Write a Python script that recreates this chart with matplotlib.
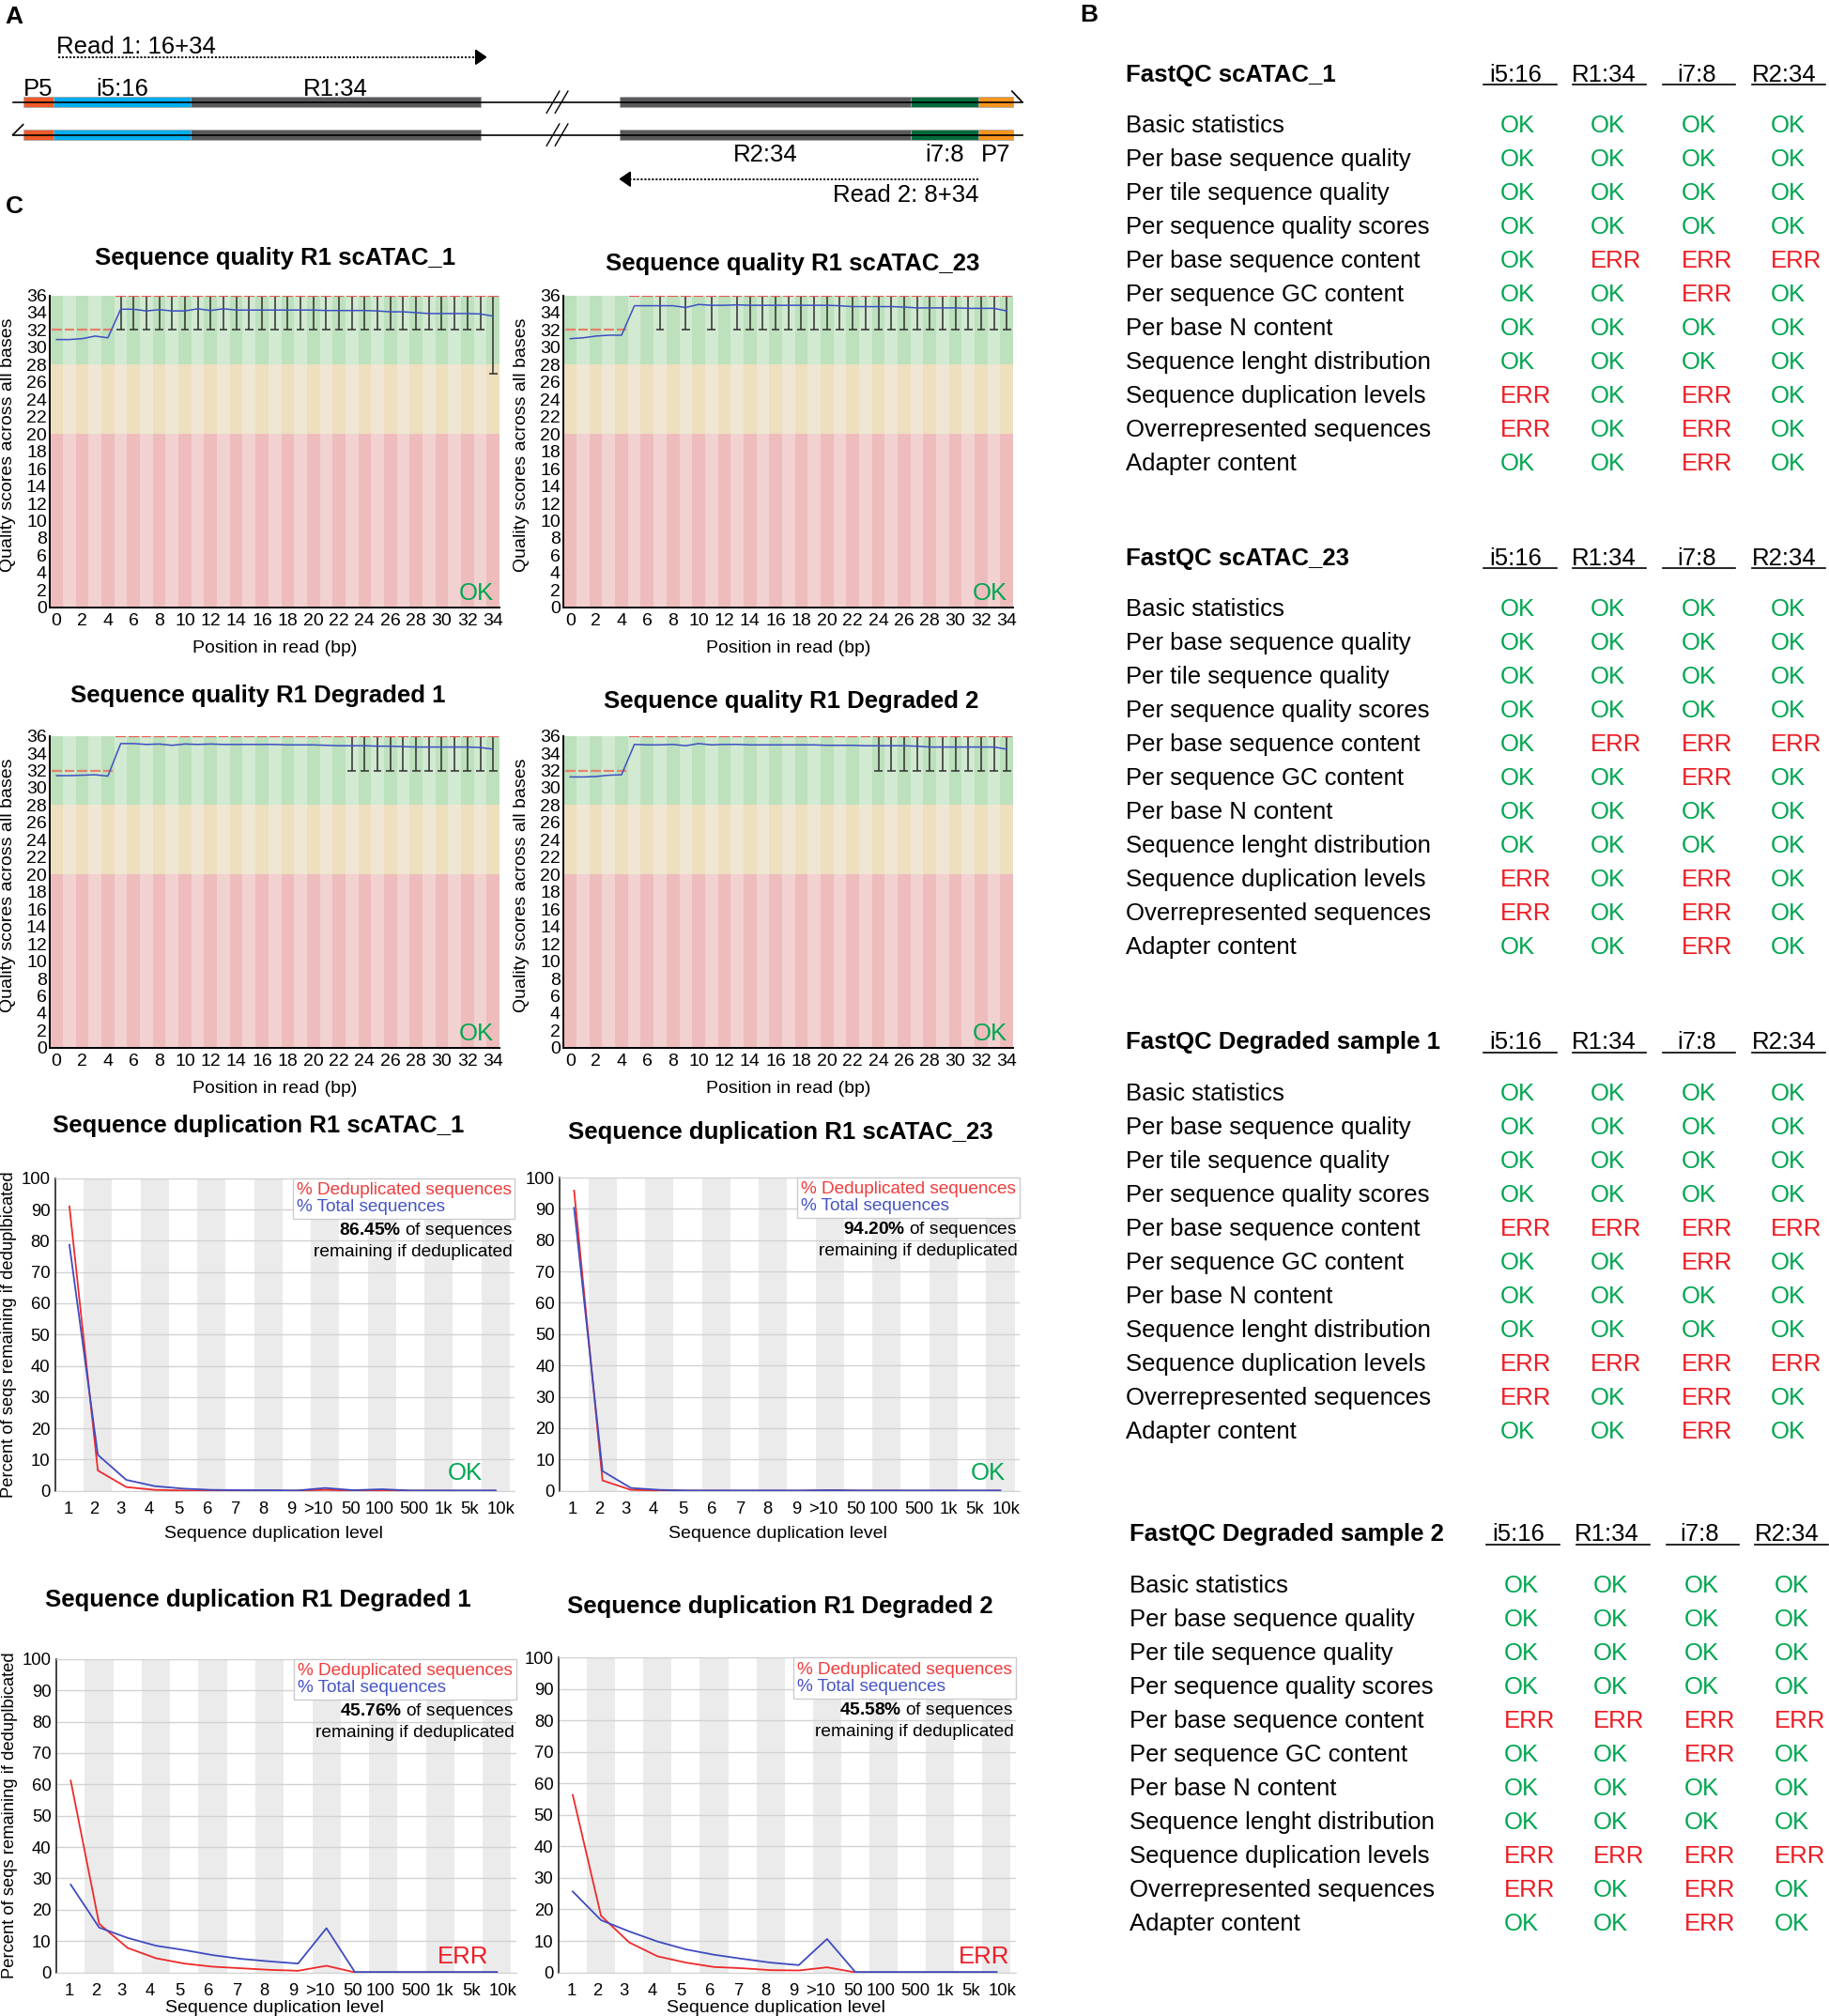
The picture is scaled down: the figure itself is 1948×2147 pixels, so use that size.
import matplotlib
matplotlib.use('Agg')
import matplotlib.pyplot as plt
from matplotlib.lines import Line2D

plt.rcParams['font.family'] = ['Liberation Sans', 'DejaVu Sans']
plt.rcParams['mathtext.fontset'] = 'custom'
plt.rcParams['mathtext.rm'] = 'Liberation Sans'
plt.rcParams['mathtext.bf'] = 'Liberation Sans:bold'

# ------------------------------------------------------------------ data
# A: library construct, lengths in bp (adapters drawn short)
left_names = ['P5', 'i5:16', 'R1:34']
left_len = [3.6, 16, 34]
left_cols = ['#f15a29', '#00aeef', '#58595b']
right_names = ['R2:34', 'i7:8', 'P7']
right_len = [34, 8, 4]
right_cols = ['#58595b', '#006b3c', '#f7941d']
insert_gap = 16.3
read1_label = 'Read 1: 16+34'
read2_label = 'Read 2: 8+34'

# B: FastQC module summary
qc_modules = ['Basic statistics', 'Per base sequence quality', 'Per tile sequence quality',
              'Per sequence quality scores', 'Per base sequence content', 'Per sequence GC content',
              'Per base N content', 'Sequence lenght distribution', 'Sequence duplication levels',
              'Overrepresented sequences', 'Adapter content']
qc_columns = ['i5:16', 'R1:34', 'i7:8', 'R2:34']
qc_titles = ['FastQC scATAC_1', 'FastQC scATAC_23', 'FastQC Degraded sample 1', 'FastQC Degraded sample 2']
qc_scatac_1 = ['OK OK OK OK', 'OK OK OK OK', 'OK OK OK OK', 'OK OK OK OK', 'OK ERR ERR ERR',
               'OK OK ERR OK', 'OK OK OK OK', 'OK OK OK OK', 'ERR OK ERR OK', 'ERR OK ERR OK',
               'OK OK ERR OK']
qc_scatac_23 = ['OK OK OK OK', 'OK OK OK OK', 'OK OK OK OK', 'OK OK OK OK', 'OK ERR ERR ERR',
                'OK OK ERR OK', 'OK OK OK OK', 'OK OK OK OK', 'ERR OK ERR OK', 'ERR OK ERR OK',
                'OK OK ERR OK']
qc_degraded_1 = ['OK OK OK OK', 'OK OK OK OK', 'OK OK OK OK', 'OK OK OK OK', 'ERR ERR ERR ERR',
                 'OK OK ERR OK', 'OK OK OK OK', 'OK OK OK OK', 'ERR ERR ERR ERR', 'ERR OK ERR OK',
                 'OK OK ERR OK']
qc_degraded_2 = ['OK OK OK OK', 'OK OK OK OK', 'OK OK OK OK', 'OK OK OK OK', 'ERR ERR ERR ERR',
                 'OK OK ERR OK', 'OK OK OK OK', 'OK OK OK OK', 'ERR ERR ERR ERR', 'ERR OK ERR OK',
                 'OK OK ERR OK']
qc_tables = [qc_scatac_1, qc_scatac_23, qc_degraded_1, qc_degraded_2]

# C: per base sequence quality (R1)
positions = list(range(35))
qual_titles = ['Sequence quality R1 scATAC_1', 'Sequence quality R1 scATAC_23',
               'Sequence quality R1 Degraded 1', 'Sequence quality R1 Degraded 2']
mean_scatac_1 = [30.9, 30.9, 31.0, 31.3, 31.1, 34.4, 34.4, 34.2, 34.35, 34.2, 34.2, 34.45, 34.25,
                 34.45, 34.3, 34.3, 34.3, 34.3, 34.3, 34.3, 34.3, 34.25, 34.25, 34.25, 34.25, 34.2,
                 34.1, 34.1, 34.0, 33.9, 33.9, 33.9, 33.9, 33.85, 33.6]
mean_scatac_23 = [31.0, 31.1, 31.3, 31.4, 31.4, 34.8, 34.8, 34.8, 34.8, 34.6, 34.95, 34.85, 34.85,
                  34.9, 34.85, 34.85, 34.85, 34.85, 34.85, 34.85, 34.85, 34.8, 34.7, 34.7, 34.7,
                  34.7, 34.65, 34.55, 34.55, 34.55, 34.55, 34.5, 34.5, 34.5, 34.2]
mean_degraded_1 = [31.4, 31.4, 31.45, 31.5, 31.35, 35.1, 35.1, 35.0, 35.05, 34.9, 35.05, 35.0, 35.05,
                   35.0, 35.0, 35.0, 35.0, 35.0, 34.95, 34.95, 34.95, 34.9, 34.85, 34.85, 34.85,
                   34.8, 34.8, 34.75, 34.7, 34.7, 34.7, 34.7, 34.7, 34.65, 34.45]
mean_degraded_2 = [31.25, 31.25, 31.3, 31.45, 31.5, 35.0, 34.95, 34.95, 35.0, 34.85, 35.1, 34.95,
                   35.0, 35.0, 34.95, 34.95, 34.95, 34.95, 34.95, 34.95, 34.9, 34.9, 34.9, 34.85,
                   34.85, 34.85, 34.85, 34.8, 34.7, 34.7, 34.7, 34.7, 34.7, 34.7, 34.45]
qual_means = [mean_scatac_1, mean_scatac_23, mean_degraded_1, mean_degraded_2]
qual_median = [32] * 5 + [36] * 30
whisk_scatac_1 = list(range(5, 35))
low_scatac_1 = [32] * 29 + [27]
whisk_scatac_23 = [7, 9, 11, 13] + list(range(14, 35))
whisk_degraded_1 = list(range(23, 35))
whisk_degraded_2 = list(range(24, 35))
qual_whisk = [whisk_scatac_1, whisk_scatac_23, whisk_degraded_1, whisk_degraded_2]
qual_low = [low_scatac_1, [32] * len(whisk_scatac_23), [32] * len(whisk_degraded_1),
            [32] * len(whisk_degraded_2)]

# C: sequence duplication levels (R1)
dup_levels = ['1', '2', '3', '4', '5', '6', '7', '8', '9', '>10', '50', '100', '500', '1k', '5k', '10k']
dup_titles = ['Sequence duplication R1 scATAC_1', 'Sequence duplication R1 scATAC_23',
              'Sequence duplication R1 Degraded 1', 'Sequence duplication R1 Degraded 2']
dedup_scatac_1 = [91, 6.5, 1.2, 0.3, 0.1, 0.05, 0.05, 0.05, 0.05, 0.3, 0.05, 0.2, 0.05, 0.02, 0.02, 0.02]
total_scatac_1 = [78.7, 11.5, 3.5, 1.5, 0.7, 0.3, 0.2, 0.2, 0.1, 0.9, 0.2, 0.5, 0.1, 0.1, 0.1, 0.1]
dedup_scatac_23 = [95.8, 3.3, 0.3, 0.1, 0.05, 0.02, 0.02, 0.02, 0.02, 0.2, 0.05, 0.05, 0.02, 0.02, 0.02, 0.02]
total_scatac_23 = [90.3, 6.3, 0.9, 0.3, 0.1, 0.1, 0.1, 0.1, 0.1, 0.2, 0.1, 0.1, 0.1, 0.1, 0.1, 0.1]
dedup_degraded_1 = [61.2, 15.5, 7.8, 4.5, 2.8, 1.8, 1.3, 0.8, 0.5, 2.1, 0, 0, 0, 0, 0, 0]
total_degraded_1 = [28.0, 14.3, 11.0, 8.5, 7.1, 5.5, 4.3, 3.5, 2.8, 14.1, 0.1, 0.1, 0.1, 0.1, 0.1, 0.1]
dedup_degraded_2 = [56.4, 18.0, 9.5, 5.1, 3.1, 1.7, 1.3, 0.7, 0.6, 1.6, 0, 0, 0, 0, 0, 0]
total_degraded_2 = [25.7, 16.6, 13.0, 9.8, 7.3, 5.6, 4.3, 3.1, 2.3, 10.6, 0.1, 0.1, 0.1, 0.1, 0.1, 0.1]
dup_dedup = [dedup_scatac_1, dedup_scatac_23, dedup_degraded_1, dedup_degraded_2]
dup_total = [total_scatac_1, total_scatac_23, total_degraded_1, total_degraded_2]
dup_remaining = ['86.45', '94.20', '45.76', '45.58']
dup_status = ['OK', 'OK', 'ERR', 'ERR']

# ------------------------------------------------------------------ layout
W, H = 1425.0, 1570.0
OK_C, ERR_C = '#00a651', '#ed1c24'
FS_TXT = 18.5
FS_QTICK = 14
FS_DTICK = 13.3
# where the original chart put its duplication tick labels (relative to bin centre)
dup_label_shift = [-0.05, -0.12, -0.2, -0.2, -0.16, -0.14, -0.13, -0.18, -0.18, -0.24,
                   -0.09, -0.1, 0.13, 0.17, 0.09, 0.2]


def rect(l, t, r, b):
    return [l / W, 1 - b / H, (r - l) / W, (b - t) / H]


fig = plt.figure(figsize=(19.49, 21.47), dpi=100)

#################################################  A
axA = fig.add_axes(rect(0, 0, 820, 170))
axA.axis('off')
bp = 6.65
axA.set_xlim(-18 / bp, (820 - 18) / bp)
axA.set_ylim(170, 0)

left_start = [sum(left_len[:i]) for i in range(3)]
r0 = sum(left_len) + insert_gap
right_start = [r0 + sum(right_len[:i]) for i in range(3)]
end = r0 + sum(right_len)

for y in (79.5, 105):
    axA.barh([y] * 3, left_len, left=left_start, height=8, color=left_cols,
             edgecolor='#a8a8a8', linewidth=0.6)
    axA.barh([y] * 3, right_len, left=right_start, height=8, color=right_cols,
             edgecolor='#a8a8a8', linewidth=0.6)
    axA.plot([-1.2, end + 1.1], [y, y], color='k', lw=1.2)
    c = sum(left_len) + insert_gap / 2 + 0.8
    for d in (-0.5, 0.5):
        axA.plot([c + d - 0.75, c + d + 0.75], [y + 8.5, y - 8.5], color='k', lw=1)
axA.plot([end - 0.1, end + 1.1], [71, 79.5], color='k', lw=1.2)
axA.plot([-1.2, 0], [105, 97], color='k', lw=1.2)

for name, s, l in zip(left_names, left_start, left_len):
    axA.text(s + l / 2, 74.5, name, ha='center', va='baseline', fontsize=FS_TXT)
for name, s, l in zip(right_names, right_start, right_len):
    axA.text(s + l / 2, 125.5, name, ha='center', va='baseline', fontsize=FS_TXT)

r1a, r1b = left_start[1], sum(left_len)
axA.plot([r1a + 0.5, r1b - 0.6], [44.5, 44.5], color='k', lw=1.3, ls=(0, (1.2, 1.0)))
axA.fill([r1b - 0.6, r1b - 0.6, r1b + 0.6], [39, 50, 44.5], color='k')
axA.text(r1a + 0.3, 41.4, read1_label, va='baseline', fontsize=FS_TXT)
r2a, r2b = right_start[2], right_start[0]
axA.plot([r2a, r2b + 1.2], [139.4, 139.4], color='k', lw=1.3, ls=(0, (1.2, 1.0)))
axA.fill([r2b + 1.2, r2b + 1.2, r2b], [134, 145, 139.4], color='k')
axA.text(r2a, 157.2, read2_label, ha='right', va='baseline', fontsize=FS_TXT)

#################################################  C quality
q_boxes = [(39, 230, 389, 473), (439, 230, 789, 473), (39, 573, 389, 816), (439, 573, 789, 816)]
q_title_xy = [(214, 206), (617, 210.6), (201, 547), (616, 551.5)]
greens = ['#bde0bd', '#d1ead1']
oranges = ['#eedfbf', '#efe6d4']
reds = ['#eebcbc', '#f2d1d1']

ov_text = []
for k in range(4):
    l, t, r, b = q_boxes[k]
    ax = fig.add_axes(rect(l, t, r, b))
    ax.bar(positions, [8] * 35, bottom=28, width=1, color=[greens[p % 2] for p in positions], lw=0)
    ax.bar(positions, [8] * 35, bottom=20, width=1, color=[oranges[p % 2] for p in positions], lw=0)
    ax.bar(positions, [20] * 35, bottom=0, width=1, color=[reds[p % 2] for p in positions], lw=0)
    wp = qual_whisk[k]
    ax.vlines(wp, qual_low[k], [36] * len(wp), colors='#2e2e2e', lw=1.1, zorder=3)
    ax.hlines(qual_low[k], [p - 0.32 for p in wp], [p + 0.32 for p in wp], colors='#2e2e2e', lw=1.1, zorder=3)
    med_col = ['#e6806a' if m < 36 else '#e85a55' for m in qual_median]
    ax.hlines(qual_median, [p - 0.39 for p in positions], [p + 0.39 for p in positions],
              colors=med_col, lw=1.6, zorder=4)
    ax.plot(positions, qual_means[k], color='#3d50c3', lw=1.1, zorder=5)
    ax.set_xlim(-0.5, 34.5)
    ax.set_ylim(0, 36)
    ax.set_xticks(range(0, 35, 2))
    ax.set_yticks(range(0, 37, 2))
    ax.tick_params(length=0, labelsize=FS_QTICK)
    ax.tick_params(axis='x', pad=4.5)
    ax.tick_params(axis='y', pad=2.5)
    for s in ('top', 'right'):
        ax.spines[s].set_visible(False)
    for s in ('left', 'bottom'):
        ax.spines[s].set_linewidth(1.4)
    ax.text(0.987, 0.008, 'OK', transform=ax.transAxes, ha='right', va='bottom',
            color=OK_C, fontsize=18.5, zorder=6)
    ov_text.append((q_title_xy[k][0], q_title_xy[k][1], qual_titles[k], FS_TXT, 'bold', 0, 'baseline'))
    ov_text.append(((l + r) / 2, b + 35, 'Position in read (bp)', 14, 'normal', 0, 'baseline'))
    ov_text.append((l - 33, (t + b) / 2 - 5, 'Quality scores across all bases', 14, 'normal', 90, 'center'))

#################################################  C duplication
d_boxes = [(43, 917.6, 401, 1161), (436, 917, 794, 1161), (44, 1292, 402, 1536), (435, 1291, 791, 1536)]
d_title_xy = [(201, 881.8), (608, 887), (201, 1251.5), (607.6, 1256.4)]
d_status_x = [0.93, 0.97, 0.94, 0.987]
d_status_y = [0.02, 0.02, 0.013, 0.013]
d_xlabel_y = [1198, 1198, 1567, 1567]

for k in range(4):
    l, t, r, b = d_boxes[k]
    ax = fig.add_axes(rect(l, t, r, b))
    xs = list(range(len(dup_levels)))
    for i in xs[1::2]:
        ax.axvspan(i - 0.5, i + 0.5, color='#ebebec', lw=0, zorder=0.2)
    ax.set_axisbelow(True)
    ax.grid(axis='y', color='#d2d2d2', lw=1)
    ax.plot(xs, dup_dedup[k], color='#ee2a2a', lw=1.3, zorder=3)
    ax.plot(xs, dup_total[k], color='#3f4bbf', lw=1.3, zorder=3)
    ax.set_xlim(-0.5, 15.68)
    ax.set_ylim(0, 100)
    ax.set_xticks([x + s for x, s in zip(xs, dup_label_shift)])
    ax.set_xticklabels(dup_levels)
    ax.set_yticks(range(0, 101, 10))
    ax.tick_params(length=0, labelsize=FS_DTICK)
    ax.tick_params(axis='x', pad=8)
    ax.tick_params(axis='y', pad=4)
    ax.spines['right'].set_visible(False)
    ax.spines['top'].set_color('#d2d2d2')
    ax.spines['bottom'].set_color('#d2d2d2')
    ax.spines['left'].set_color('#222222')
    ax.spines['left'].set_linewidth(1.2)
    handles = [Line2D([], [], lw=0), Line2D([], [], lw=0)]
    leg = ax.legend(handles, ['% Deduplicated sequences', '% Total sequences'], loc='upper right',
                    bbox_to_anchor=(1.0, 1.0), borderaxespad=0, handlelength=0, handletextpad=0,
                    borderpad=0.2, labelspacing=0.05, fontsize=13.7, fancybox=False,
                    framealpha=1, edgecolor='#cccccc', labelcolor=['#f03c3c', '#4554c4'])
    leg.get_frame().set_linewidth(1)
    ax.text(0.995, 0.834, r'$\mathbf{' + dup_remaining[k] + r'\%}$ of sequences', transform=ax.transAxes,
            ha='right', va='center', fontsize=13.8, zorder=6)
    ax.text(0.995, 0.764, 'remaining if deduplicated', transform=ax.transAxes,
            ha='right', va='center', fontsize=13.8, zorder=6)
    st = dup_status[k]
    ax.text(d_status_x[k], d_status_y[k], st, transform=ax.transAxes, ha='right', va='bottom',
            color=OK_C if st == 'OK' else ERR_C, fontsize=18.5, zorder=6)
    ov_text.append((d_title_xy[k][0], d_title_xy[k][1], dup_titles[k], FS_TXT, 'bold', 0, 'baseline'))
    ov_text.append(((l + r) / 2 - 9, d_xlabel_y[k], 'Sequence duplication level', 14, 'normal', 0, 'baseline'))
    if k % 2 == 0:
        ov_text.append((l - 36, (t + b) / 2, 'Percent of seqs remaining if deduplbicated',
                        13.2, 'normal', 90, 'center'))

#################################################  overlay: B tables and labels
ov = fig.add_axes([0, 0, 1, 1])
ov.axis('off')
ov.set_xlim(0, W)
ov.set_ylim(H, 0)

for x, y, s, fs, fw, rot, va in ov_text:
    ov.text(x, y, s, ha='center', va=va, fontsize=fs, fontweight=fw, rotation=rot)

ov.text(4, 18.3, 'A', fontsize=19, fontweight='bold', va='baseline')
ov.text(841, 16.8, 'B', fontsize=19, fontweight='bold', va='baseline')
ov.text(4, 165.7, 'C', fontsize=19, fontweight='bold', va='baseline')

tab_base = [63.4, 439.9, 816.9, 1200.3]
tab_dx = [0, 0, 0, 2.5]
head_cx = [1180, 1249, 1321, 1389]
under = [(1155, 1211.9), (1225, 1282), (1295, 1351.5), (1364, 1421)]
val_x = [1168.4, 1238.4, 1309.2, 1379]
for ti in range(4):
    y0, dx = tab_base[ti], tab_dx[ti]
    ov.text(877 + dx, y0, qc_titles[ti], fontsize=FS_TXT, fontweight='bold', va='baseline')
    for j, col in enumerate(qc_columns):
        ov.text(head_cx[j] + dx, y0, col, fontsize=FS_TXT, ha='center', va='baseline')
        ov.plot([under[j][0] + dx, under[j][1] + dx], [y0 + 2.5, y0 + 2.5], color='k', lw=1.2)
    for i, mod in enumerate(qc_modules):
        yy = y0 + 40 + 26.33 * i
        ov.text(877 + dx, yy, mod, fontsize=FS_TXT, va='baseline')
        for j, st in enumerate(qc_tables[ti][i].split()):
            ov.text(val_x[j] + dx, yy, st, fontsize=FS_TXT, va='baseline',
                    color=OK_C if st == 'OK' else ERR_C)

fig.savefig('out.png', dpi=100)
